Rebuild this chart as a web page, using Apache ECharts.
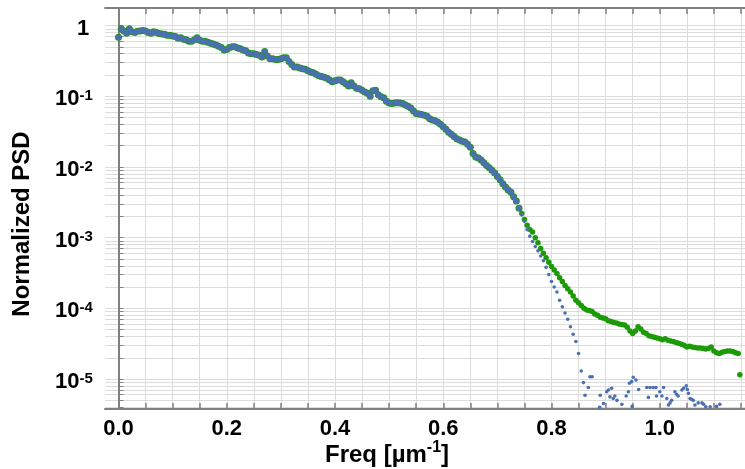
<!DOCTYPE html>
<html>
<head>
<meta charset="utf-8">
<script src="https://cdn.jsdelivr.net/npm/echarts@6/dist/echarts.min.js"></script>
<style>html,body{margin:0;padding:0;background:#fff;}#chart{width:745px;height:469px;}</style>
</head>
<body>
<div id="chart"></div>
<script>
// ---- data ----
// shared part of both measurements (blue and green overlap)
const freqShared = [0,0.005,0.01,0.015,0.02,0.025,0.03,0.035,0.04,0.045,0.05,0.055,0.06,0.065,0.07,0.075,0.08,0.085,0.09,0.095,
0.1,0.105,0.11,0.115,0.12,0.125,0.13,0.135,0.14,0.145,0.15,0.155,0.16,0.165,0.17,0.175,0.18,0.185,0.19,0.195,
0.2,0.205,0.21,0.215,0.22,0.225,0.23,0.235,0.24,0.245,0.25,0.255,0.26,0.265,0.27,0.275,0.28,0.285,0.29,0.295,
0.3,0.305,0.31,0.315,0.32,0.325,0.33,0.335,0.34,0.345,0.35,0.355,0.36,0.365,0.37,0.375,0.38,0.385,0.39,0.395,
0.4,0.405,0.41,0.415,0.42,0.425,0.43,0.435,0.44,0.445,0.45,0.455,0.46,0.465,0.47,0.475,0.48,0.485,0.49,0.495,
0.5,0.505,0.51,0.515,0.52,0.525,0.53,0.535,0.54,0.545,0.55,0.555,0.56,0.565,0.57,0.575,0.58,0.585,0.59,0.595,
0.6,0.605,0.61,0.615,0.62,0.625,0.63,0.635,0.64,0.645,0.65,0.655,0.66,0.665,0.67,0.675,0.68,0.685,0.69,0.695,
0.7,0.705,0.71,0.715,0.72,0.725,0.73,0.735,0.74];
const psdShared = [0.68,0.90,0.84,0.78,0.90,0.82,0.80,0.83,0.84,0.85,0.84,0.80,0.78,0.82,0.80,0.77,0.76,0.75,0.73,0.73,
0.71,0.70,0.66,0.67,0.64,0.63,0.60,0.60,0.63,0.67,0.62,0.60,0.60,0.58,0.56,0.55,0.53,0.51,0.49,0.45,
0.46,0.49,0.50,0.50,0.48,0.47,0.45,0.44,0.41,0.40,0.40,0.39,0.38,0.36,0.43,0.37,0.34,0.34,0.33,0.33,
0.34,0.35,0.35,0.31,0.28,0.26,0.26,0.25,0.245,0.24,0.23,0.22,0.215,0.205,0.195,0.19,0.185,0.18,0.17,0.16,
0.165,0.17,0.17,0.16,0.15,0.14,0.155,0.14,0.13,0.128,0.122,0.115,0.11,0.10,0.12,0.122,0.105,0.098,0.095,0.085,
0.08,0.079,0.08,0.081,0.08,0.079,0.075,0.072,0.068,0.062,0.057,0.056,0.055,0.054,0.052,0.048,0.046,0.045,0.043,0.040,
0.037,0.034,0.031,0.029,0.027,0.025,0.024,0.023,0.0225,0.021,0.019,0.0155,0.0138,0.0134,0.0125,0.0115,0.0105,0.0097,0.009,0.0082,
0.0073,0.0066,0.0058,0.0052,0.0047,0.0044,0.0038,0.0033,0.0026];

// green series tail
const greenTailFreq = [0.745,0.75,0.755,0.76,0.765,0.77,0.775,0.78,0.785,0.79,0.795,0.8,0.805,0.81,0.815,0.82,0.825,0.83,0.835,0.84,
0.845,0.85,0.855,0.86,0.865,0.87,0.875,0.88,0.885,0.89,0.895,0.9,0.905,0.91,0.915,0.92,0.925,0.93,0.935,0.94,
0.945,0.95,0.955,0.96,0.965,0.97,0.975,0.98,0.985,0.99,0.995,1.0,1.005,1.01,1.015,1.02,1.025,1.03,1.035,1.04,
1.045,1.05,1.055,1.06,1.065,1.07,1.075,1.08,1.085,1.09,1.095,1.1,1.105,1.11,1.115,1.12,1.125,1.13,1.135,1.14,
1.145,1.148];
const greenTailPsd = [0.0022,0.0018,0.0015,0.0013,0.0012,0.001,0.00085,0.0007,0.0006,0.00052,0.00045,0.00039,0.00035,0.00031,0.00027,0.00024,0.00021,0.00019,0.00017,0.00015,
0.00013,0.00012,0.00011,0.0001,9.5e-5,9.3e-5,9.0e-5,8.3e-5,8.0e-5,7.5e-5,7.3e-5,7.1e-5,6.7e-5,6.5e-5,6.3e-5,6.2e-5,6.0e-5,5.9e-5,5.8e-5,5.4e-5,
4.8e-5,4.4e-5,4.8e-5,5.5e-5,5.1e-5,4.6e-5,4.4e-5,4.1e-5,4.0e-5,3.9e-5,3.8e-5,3.7e-5,3.6e-5,3.7e-5,3.55e-5,3.45e-5,3.4e-5,3.3e-5,3.2e-5,3.1e-5,
3.0e-5,2.85e-5,2.9e-5,2.85e-5,2.8e-5,2.75e-5,2.75e-5,2.7e-5,2.65e-5,2.7e-5,2.85e-5,2.5e-5,2.35e-5,2.3e-5,2.4e-5,2.45e-5,2.5e-5,2.5e-5,2.45e-5,2.35e-5,
2.3e-5,1.15e-5];

// blue series tail
const blueTailFreq = [0.745,0.75,0.755,0.76,0.765,0.77,0.775,0.78,0.785,0.79,0.795,0.8,0.805,0.81,0.815,0.82,0.825,0.83,0.835,0.84,
0.845,0.85,0.855,0.859,0.862,0.868,0.871,0.875,0.889,0.89,0.896,0.902,0.905,0.908,0.911,0.914,0.917,0.921,0.93,0.938,
0.942,0.944,0.948,0.949,0.951,0.956,0.961,0.976,0.979,0.982,0.988,0.993,0.994,1.0,1.004,1.007,1.013,1.016,1.019,1.022,
1.028,1.031,1.034,1.041,1.044,1.049,1.051,1.053,1.056,1.059,1.062,1.065,1.071,1.078,1.081,1.085,1.093,1.105,1.111];
const blueTailPsd = [0.0021,0.0017,0.0013,0.00105,0.00088,0.00075,0.00065,0.00055,0.00047,0.00038,0.0003,0.00024,0.0002,0.00017,0.00013,0.000105,8.6e-5,7.0e-5,5.5e-5,4.3e-5,
3.4e-5,2.3e-5,1.3e-5,8.9e-6,5.9e-6,7.6e-6,1.08e-5,1.08e-5,4.0e-6,5.9e-6,4.5e-6,6.6e-6,7.0e-6,5.6e-6,7.4e-6,5.3e-6,5.75e-6,5.0e-6,4.4e-6,5.75e-6,
6.6e-6,8.7e-6,9.2e-6,4.1e-6,1.06e-5,9.7e-6,7.1e-6,7.6e-6,5.5e-6,7.6e-6,7.6e-6,7.6e-6,5.75e-6,6.6e-6,5.75e-6,7.6e-6,5.3e-6,4.3e-6,4.6e-6,5.0e-6,
6.6e-6,6.1e-6,5.75e-6,7.0e-6,7.4e-6,8.0e-6,7.1e-6,6.3e-6,5.3e-6,5.15e-6,5.0e-6,4.3e-6,4.6e-6,4.6e-6,4.4e-6,4.05e-6,4.05e-6,4.1e-6,4.4e-6];

// ticks
const xTicks = [0,0.05,0.1,0.15,0.2,0.25,0.3,0.35,0.4,0.45,0.5,0.55,0.6,0.65,0.7,0.75,0.8,0.85,0.9,0.95,1.0,1.05,1.1,1.15];
const xLabels = [0,0.2,0.4,0.6,0.8,1.0];
const yLabels = [1e-5,1e-4,1e-3,1e-2,1e-1,1];
const yTicks = [4e-6,5e-6,6e-6,7e-6,8e-6,9e-6,
1e-5,2e-5,3e-5,4e-5,5e-5,6e-5,7e-5,8e-5,9e-5,
1e-4,2e-4,3e-4,4e-4,5e-4,6e-4,7e-4,8e-4,9e-4,
1e-3,2e-3,3e-3,4e-3,5e-3,6e-3,7e-3,8e-3,9e-3,
1e-2,2e-2,3e-2,4e-2,5e-2,6e-2,7e-2,8e-2,9e-2,
0.1,0.2,0.3,0.4,0.5,0.6,0.7,0.8,0.9,1];

const pairs = (f, v) => f.map((x, i) => [x, v[i]]);
const greenData = pairs(freqShared, psdShared).concat(pairs(greenTailFreq, greenTailPsd));
const blueData = pairs(freqShared, psdShared).concat(pairs(blueTailFreq, blueTailPsd));
const nShared = freqShared.length;

const FONT = '"Liberation Sans", Arial, sans-serif';
const AX = '#808080';
const GRID = '#dcdcdc';

const chart = echarts.init(document.getElementById('chart'), null, {renderer: 'canvas'});
chart.setOption({
  animation: false,
  backgroundColor: '#fff',
  grid: {left: 105, right: 0, top: 8, bottom: 60, containLabel: false},
  title: {
    text: '{a|Freq [µm}{s|-1}{a|]}',
    left: 325, top: 440, padding: 0,
    textStyle: {
      rich: {
        a: {fontSize: 24, fontWeight: 'bold', fontFamily: FONT, color: '#000', lineHeight: 27, verticalAlign: 'bottom'},
        s: {fontSize: 16, fontWeight: 'bold', fontFamily: FONT, color: '#000', verticalAlign: 'top'}
      }
    }
  },
  graphic: [{
    type: 'text', x: 22, y: 224, rotation: Math.PI / 2, silent: true,
    style: {
      text: 'Normalized PSD', fill: '#000',
      font: 'bold 24px "Liberation Sans", Arial, sans-serif',
      align: 'center', verticalAlign: 'middle',
      textAlign: 'center', textVerticalAlign: 'middle'
    }
  }],
  xAxis: [{
    type: 'value', min: -0.025, max: 1.1575,
    axisLine: {show: true, lineStyle: {color: AX, width: 2}},
    axisTick: {show: true, inside: true, length: 6, customValues: xTicks, lineStyle: {color: AX, width: 1.5}},
    axisLabel: {customValues: xLabels, margin: 9, fontSize: 22, fontWeight: 'bold', fontFamily: FONT, color: '#000',
      formatter: v => v.toFixed(1)},
    splitLine: {show: true, lineStyle: {color: GRID, width: 1}}
  }, {
    type: 'value', position: 'top', min: -0.025, max: 1.1575,
    axisLine: {show: true, lineStyle: {color: AX, width: 2}},
    axisTick: {show: true, inside: true, length: 6, customValues: xTicks, lineStyle: {color: AX, width: 1.5}},
    axisLabel: {show: false},
    splitLine: {show: false}
  }],
  yAxis: {
    type: 'log', logBase: 10, min: 3.77e-6, max: 1.77,
    axisLine: {show: true, lineStyle: {color: AX, width: 2}},
    axisTick: {show: true, inside: true, length: 5, customValues: yTicks, lineStyle: {color: AX, width: 1}},
    axisLabel: {
      customValues: yLabels, align: 'left', margin: 50, padding: [6, 0, 0, 0],
      formatter: v => {
        const e = Math.round(Math.log10(v));
        return e === 0 ? '{one|1}' : '{b|10}{s|' + e + '}';
      },
      rich: {
        one: {fontSize: 22, fontWeight: 'bold', fontFamily: FONT, color: '#000', lineHeight: 22, verticalAlign: 'bottom', padding: [0, 0, 0, 22]},
        b: {fontSize: 22, fontWeight: 'bold', fontFamily: FONT, color: '#000', lineHeight: 22, verticalAlign: 'bottom'},
        s: {fontSize: 15, fontWeight: 'bold', fontFamily: FONT, color: '#000', verticalAlign: 'top'}
      }
    },
    splitLine: {show: true, lineStyle: {color: GRID, width: 1}}
  },
  series: [{
    name: 'green', type: 'scatter', xAxisIndex: 0, data: greenData,
    symbol: 'circle', symbolSize: (v, p) => (p.dataIndex < nShared ? 7 : 5.5),
    itemStyle: {color: '#1c9a08', opacity: 1}
  }, {
    name: 'blue', type: 'scatter', xAxisIndex: 0, data: blueData,
    symbol: 'circle', symbolSize: (v, p) => (p.dataIndex < nShared ? 5.5 : 3.6),
    itemStyle: {color: '#4a70b2', opacity: 1}
  }]
});
</script>
</body>
</html>
